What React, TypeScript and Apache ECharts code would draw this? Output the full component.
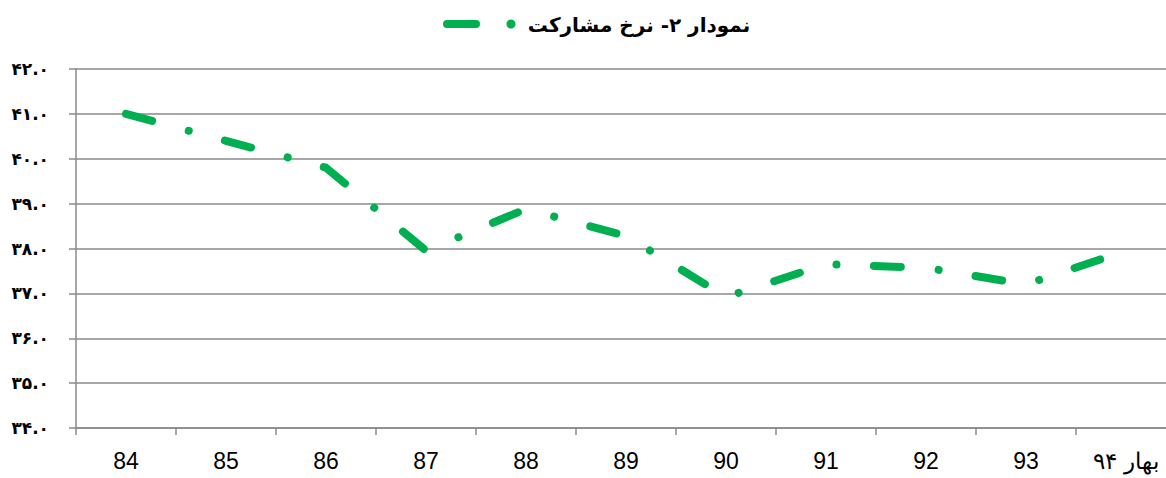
import React, { useEffect, useRef } from "react";
import * as echarts from "echarts";

const categories = ["84", "85", "86", "87", "88", "89", "90", "91", "92", "93", "بهار ۹۴"];
const participation = [41.0, 40.4, 39.8, 37.95, 38.88, 38.28, 36.92, 37.65, 37.57, 37.2, 37.95];
const seriesName = "نمودار ۲- نرخ مشارکت";
const yMin = 34;
const yMax = 42;
const yStep = 1;

const faDigits = "۰۱۲۳۴۵۶۷۸۹";
const toFa = (s: string) => s.replace(/[0-9]/g, (d) => faDigits[+d]);

const GREEN = "#00B050";
const GRID = "#8a8a8a";

export default function App() {
  const ref = useRef<HTMLDivElement>(null);
  useEffect(() => {
    if (!ref.current) return;
    const chart = echarts.init(ref.current, null, { renderer: "svg" });
    chart.setOption({
      animation: false,
      backgroundColor: "#ffffff",
      title: {
        text: seriesName,
        left: 634,
        top: 10,
        textAlign: "center",
        textStyle: {
          fontFamily: "DejaVu Sans",
          fontSize: 20,
          fontWeight: "bold",
          color: "#000000",
        },
      },
      graphic: [
        {
          type: "line",
          shape: { x1: 447, y1: 24, x2: 476, y2: 24 },
          style: { stroke: GREEN, lineWidth: 8, lineCap: "round" },
        },
        {
          type: "circle",
          shape: { cx: 511, cy: 24, r: 4.5 },
          style: { fill: GREEN },
        },
      ],
      grid: { left: 76, top: 69, right: 0, bottom: 50, containLabel: false },
      xAxis: {
        type: "category",
        data: categories,
        boundaryGap: true,
        axisLine: { show: true, lineStyle: { color: GRID, width: 1.5 } },
        axisTick: { show: true, length: 7, alignWithLabel: false, lineStyle: { color: GRID, width: 1.5 } },
        axisLabel: {
          margin: 21,
          color: "#000000",
          fontFamily: "Liberation Sans",
          fontSize: 23,
        },
        splitLine: { show: false },
      },
      yAxis: {
        type: "value",
        min: yMin,
        max: yMax,
        interval: yStep,
        axisLine: { show: true, lineStyle: { color: GRID, width: 1.5 } },
        axisTick: { show: true, length: 7, lineStyle: { color: GRID, width: 1.5 } },
        axisLabel: {
          margin: 27,
          color: "#000000",
          fontFamily: "DejaVu Sans",
          fontWeight: "bold",
          fontSize: 17,
          formatter: (v: number) => toFa(v.toFixed(1)),
        },
        splitLine: { show: true, lineStyle: { color: GRID, width: 1.5 } },
      },
      series: [
        {
          name: seriesName,
          type: "line",
          data: participation,
          showSymbol: false,
          symbol: "none",
          lineStyle: {
            color: GREEN,
            width: 8,
            type: [27, 38, 0.01, 37.4],
            cap: "round",
            join: "round",
          },
        },
      ],
    });
    return () => chart.dispose();
  }, []);
  return (
    <div style={{ position: "fixed", left: 0, top: 0, width: 1166, height: 478, overflow: "hidden", background: "#fff" }}>
      <div ref={ref} style={{ width: 1176, height: 478 }} />
    </div>
  );
}
